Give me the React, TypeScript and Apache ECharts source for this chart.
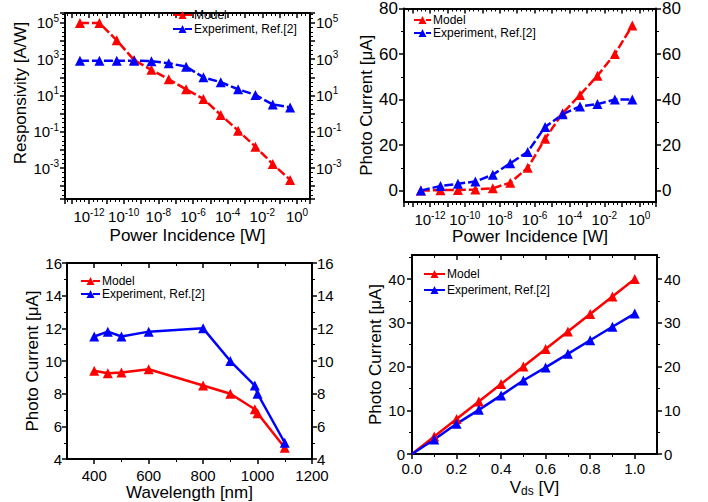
import React, { useEffect, useRef } from 'react';
import * as echarts from 'echarts';

const FONT = '"Liberation Sans", Arial, Helvetica, sans-serif';
const RED = '#ff0000';
const BLUE = '#0000ff';
const seriesNames = ['Model', 'Experiment, Ref.[2]'];

// Panel (a): responsivity [A/W] vs incident power [W] (log-log)
const powerW = [3e-13, 4e-12, 4e-11, 4e-10, 4e-9, 4e-8, 4e-7, 4e-6, 4e-5, 4e-4, 4e-3, 4e-2, 4e-1];
const respModel = [1e5, 1e5, 1.1e4, 900, 260, 78, 22, 6.5, 0.85, 0.115, 0.015, 1.65e-3, 2.2e-4];
const respExp = [830, 830, 830, 830, 780, 600, 390, 100, 54, 22, 10.7, 3.2, 2.2];
const powerTickExponents = [-12, -10, -8, -6, -4, -2, 0];
const respTickExponents = [-3, -1, 1, 3, 5];

// Panel (b): photo current [uA] vs incident power [W]
const pcModel = [0, 0.2, 0.3, 0.5, 1.0, 3.5, 10, 22.8, 34, 42, 50.5, 60, 72.5];
const pcExp = [0, 2, 3, 4, 7, 12, 17, 28, 33.5, 37, 38, 40, 40];
const pcTicks = [0, 20, 40, 60, 80];

// Panel (c): photo current [uA] vs wavelength [nm]
const wavelength = [400, 450, 500, 600, 800, 900, 990, 1000, 1100];
const wlModel = [9.4, 9.25, 9.3, 9.5, 8.5, 8.0, 7.05, 6.8, 4.7];
const wlExp = [11.5, 11.8, 11.5, 11.8, 12.0, 10.0, 8.5, 8.0, 5.0];
const wlTicks = [400, 600, 800, 1000, 1200];
const wlCurrentTicks = [4, 6, 8, 10, 12, 14, 16];

// Panel (d): photo current [uA] vs Vds [V]
const vds = [0, 0.1, 0.2, 0.3, 0.4, 0.5, 0.6, 0.7, 0.8, 0.9, 1.0];
const vdsModel = [0, 4, 8, 12, 16, 20, 24, 28, 32, 36, 40];
const vdsExp = [0, 3.3, 6.9, 10.1, 13.4, 16.8, 19.8, 22.9, 26.0, 29.1, 32.1];
const vdsTicks = [0, 0.2, 0.4, 0.6, 0.8, 1.0];
const vdsCurrentTicks = [0, 10, 20, 30, 40];

const powRich = {
  b: { fontSize: 15, fontFamily: FONT, color: '#000' },
  s: { fontSize: 10, fontFamily: FONT, color: '#000', padding: [0, 0, 9, 0] },
};
const powFormatter = (v: number) => `{b|10}{s|${Math.round(v)}}`;
const plainFormatter = (v: number) => String(v);

function baseAxis(gridIndex: number, min: number, max: number, o: any) {
  const shown = o.labels !== false;
  return {
    type: 'value',
    gridIndex,
    min,
    max,
    position: o.position,
    splitNumber: o.splitNumber ?? 5,
    name: o.name ?? '',
    nameLocation: 'middle',
    nameGap: o.nameGap ?? 30,
    nameTextStyle: {
      fontSize: 17,
      fontFamily: FONT,
      color: '#000',
      padding: o.namePadding ?? 0,
      rich: o.nameRich,
    },
    axisLine: { show: true, onZero: false, lineStyle: { color: '#000', width: 2 } },
    axisTick: {
      show: true,
      inside: !!o.inside,
      length: 5,
      lineStyle: { color: '#000', width: 1.5 },
      ...(o.tickValues ? { customValues: o.tickValues } : {}),
    },
    minorTick: {
      show: true,
      splitNumber: o.minorSplit ?? 2,
      length: 3,
      lineStyle: { color: '#000', width: 1 },
    },
    splitLine: { show: false },
    minorSplitLine: { show: false },
    axisLabel: {
      show: shown,
      color: '#000',
      fontSize: o.fontSize ?? 15,
      fontFamily: FONT,
      margin: o.margin ?? 5,
      customValues: o.labelValues,
      formatter: o.formatter ?? plainFormatter,
      rich: o.rich,
    },
  };
}

function xPair(g: number, min: number, max: number, o: any) {
  return [
    baseAxis(g, min, max, { ...o, position: 'bottom' }),
    baseAxis(g, min, max, { ...o, position: 'top', labels: false, inside: true, name: '' }),
  ];
}
function yPair(g: number, min: number, max: number, o: any) {
  return [
    baseAxis(g, min, max, { ...o, position: 'left' }),
    baseAxis(g, min, max, { ...o, position: 'right', name: '' }),
  ];
}

function lineSeries(g: number, name: string, color: string, data: any[], dashed: boolean) {
  return {
    type: 'line',
    name,
    xAxisIndex: 2 * g,
    yAxisIndex: 2 * g,
    data,
    symbol: 'triangle',
    symbolSize: 10,
    lineStyle: { color, width: 2.5, type: dashed ? [9, 3] : 'solid' },
    itemStyle: { color },
    emphasis: { disabled: true },
  };
}

function legendAt(left: number, top: number, itemWidth: number, itemGap: number) {
  return {
    left,
    top,
    orient: 'vertical',
    itemWidth,
    itemHeight: 10,
    itemGap,
    padding: 0,
    data: seriesNames,
    textStyle: { fontSize: 12, fontFamily: FONT, color: '#000', padding: [0, 0, 0, -3] },
  };
}

export default function App() {
  const ref = useRef<HTMLDivElement>(null);
  useEffect(() => {
    if (!ref.current) return;
    const chart = echarts.init(ref.current, null, { renderer: 'svg' });
    const lg = (v: number) => Math.log10(v);

    const xAxes = [
      ...xPair(0, -13.385, 0.75, {
        splitNumber: 14, minorSplit: 4, labelValues: powerTickExponents,
        formatter: powFormatter, rich: powRich, margin: 8,
        name: 'Power Incidence [W]', nameGap: 28,
      }),
      ...xPair(1, -13.49, 0.96, {
        splitNumber: 14, minorSplit: 4, labelValues: powerTickExponents,
        formatter: powFormatter, rich: powRich, margin: 8,
        name: 'Power Incidence [W]', nameGap: 25,
      }),
      ...xPair(2, 300, 1200, {
        splitNumber: 5, labelValues: wlTicks, tickValues: wlTicks, margin: 9,
        name: 'Wavelength [nm]', nameGap: 23,
      }),
      ...xPair(3, 0, 1.1, {
        splitNumber: 5, labelValues: vdsTicks, tickValues: vdsTicks, margin: 7,
        formatter: (v: number) => v.toFixed(1),
        name: 'V{sub|ds} [V]', nameGap: 24,
        nameRich: {
          sub: { fontSize: 12, fontFamily: FONT, color: '#000', padding: [7, 0, 0, 0] },
        },
      }),
    ];
    const yAxes = [
      ...yPair(0, -4.71, 5.55, {
        splitNumber: 10, minorSplit: 4, labelValues: respTickExponents,
        formatter: powFormatter, rich: powRich, margin: 6,
        name: 'Responsivity [A/W]', nameGap: 36, namePadding: [0, 0, 0, 26],
      }),
      ...yPair(1, -5, 80, {
        splitNumber: 5, labelValues: pcTicks, tickValues: pcTicks, margin: 6, fontSize: 17,
        name: 'Photo Current [μA]', nameGap: 27,
      }),
      ...yPair(2, 4, 16, {
        splitNumber: 6, labelValues: wlCurrentTicks, tickValues: wlCurrentTicks, margin: 5, fontSize: 15,
        name: 'Photo Current [μA]', nameGap: 26,
      }),
      ...yPair(3, 0, 45.5, {
        splitNumber: 5, labelValues: vdsCurrentTicks, tickValues: vdsCurrentTicks, margin: 7,
        name: 'Photo Current [μA]', nameGap: 28,
      }),
    ];

    const zipLog = (xs: number[], ys: number[]) => xs.map((x, i) => [lg(x), lg(ys[i])]);
    const zipLogX = (xs: number[], ys: number[]) => xs.map((x, i) => [lg(x), ys[i]]);
    const zip = (xs: number[], ys: number[]) => xs.map((x, i) => [x, ys[i]]);
    const zipNoFirst = (xs: number[], ys: number[]) =>
      xs.map((x, i) => (i === 0 ? { value: [x, ys[i]], symbol: 'none' } : [x, ys[i]]));

    chart.setOption({
      animation: false,
      backgroundColor: '#fff',
      grid: [
        { left: 65, top: 13, width: 245, height: 186 },
        { left: 404, top: 7, width: 252, height: 195 },
        { left: 67, top: 263, width: 245, height: 198 },
        { left: 412, top: 255, width: 245, height: 199 },
      ],
      legend: [
        legendAt(172, 9, 19, 2),
        legendAt(413, 14, 17, 1),
        legendAt(80, 275, 19, 1),
        legendAt(423, 268, 21, 4),
      ],
      xAxis: xAxes,
      yAxis: yAxes,
      series: [
        lineSeries(0, seriesNames[0], RED, zipLog(powerW, respModel), true),
        lineSeries(0, seriesNames[1], BLUE, zipLog(powerW, respExp), true),
        lineSeries(1, seriesNames[0], RED, zipLogX(powerW, pcModel), true),
        lineSeries(1, seriesNames[1], BLUE, zipLogX(powerW, pcExp), true),
        lineSeries(2, seriesNames[0], RED, zip(wavelength, wlModel), false),
        lineSeries(2, seriesNames[1], BLUE, zip(wavelength, wlExp), false),
        lineSeries(3, seriesNames[0], RED, zipNoFirst(vds, vdsModel), false),
        lineSeries(3, seriesNames[1], BLUE, zipNoFirst(vds, vdsExp), false),
      ],
    });
    return () => chart.dispose();
  }, []);
  return (
    <div
      ref={ref}
      style={{ position: 'absolute', left: 0, top: 0, width: 708, height: 502, background: '#fff' }}
    />
  );
}
